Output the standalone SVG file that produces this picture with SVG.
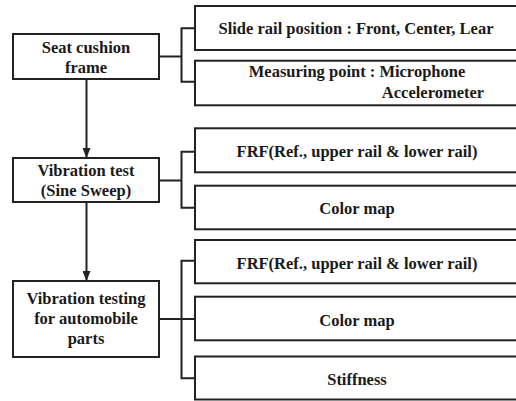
<svg xmlns="http://www.w3.org/2000/svg" width="516" height="401" viewBox="0 0 516 401">
<style>
.box{fill:#fff;stroke:#222;stroke-width:2}
.ln{fill:none;stroke:#222;stroke-width:2}
.t{font-weight:bold;font-size:16.5px;fill:#1a1a1a;text-anchor:middle}
</style>
<defs>
<marker id="ah" viewBox="0 0 10 8" refX="10" refY="4" markerWidth="10" markerHeight="8" markerUnits="userSpaceOnUse" orient="auto">
<path d="M0,0 L10,4 L0,8 Z" fill="#222"/>
</marker>
</defs>
<rect width="516" height="401" fill="#fff"/>
<g id="connectors">
<line class="ln" x1="86.5" y1="79" x2="86.5" y2="158" marker-end="url(#ah)"/>
<line class="ln" x1="86.5" y1="202" x2="86.5" y2="281" marker-end="url(#ah)"/>
<path class="ln" d="M159,56.5 H181.5 M195,28.3 H181.5 V81.7 H195"/>
<path class="ln" d="M159,180.5 H181.5 M195,151.7 H181.5 V207.7 H195"/>
<path class="ln" d="M159,319 H195 M195,260.7 H181.5 V378.3 H195"/>
</g>
<g font-family="Liberation Serif, Times New Roman, Noto Serif, DejaVu Serif, serif">
<g id="seat">
<rect class="box" x="13" y="34" width="146" height="45"/>
<text class="t" x="86" y="53">Seat cushion</text>
<text class="t" x="86" y="72.5">frame</text>
</g>
<g id="vibtest">
<rect class="box" x="13" y="158" width="146" height="44"/>
<text class="t" x="86" y="175.5">Vibration test</text>
<text class="t" x="86" y="196">(Sine Sweep)</text>
</g>
<g id="vibparts">
<rect class="box" x="13" y="281" width="146" height="76"/>
<text class="t" x="86" y="304.3">Vibration testing</text>
<text class="t" x="86" y="324.3">for automobile</text>
<text class="t" x="86" y="344.3">parts</text>
</g>
<g id="slide">
<rect class="box" x="195" y="6" width="330" height="44"/>
<text class="t" x="356" y="34.3">Slide rail position : Front, Center, Lear</text>
</g>
<g id="measuring">
<rect class="box" x="195" y="60.7" width="330" height="44.6"/>
<text class="t" x="357" y="76.5">Measuring point : Microphone</text>
<text class="t" x="433" y="98.3">Accelerometer</text>
</g>
<g id="frf1">
<rect class="box" x="195" y="128.3" width="330" height="44"/>
<text class="t" x="357" y="157.3">FRF(Ref., upper rail &amp; lower rail)</text>
</g>
<g id="color1">
<rect class="box" x="195" y="185.7" width="330" height="43.6"/>
<text class="t" x="357" y="214.3">Color map</text>
</g>
<g id="frf2">
<rect class="box" x="195" y="240" width="330" height="43.3"/>
<text class="t" x="357" y="269">FRF(Ref., upper rail &amp; lower rail)</text>
</g>
<g id="color2">
<rect class="box" x="195" y="296.7" width="330" height="43.6"/>
<text class="t" x="357" y="326">Color map</text>
</g>
<g id="stiffness">
<rect class="box" x="195" y="356.5" width="330" height="43"/>
<text class="t" x="357" y="385">Stiffness</text>
</g>
</g>
</svg>
